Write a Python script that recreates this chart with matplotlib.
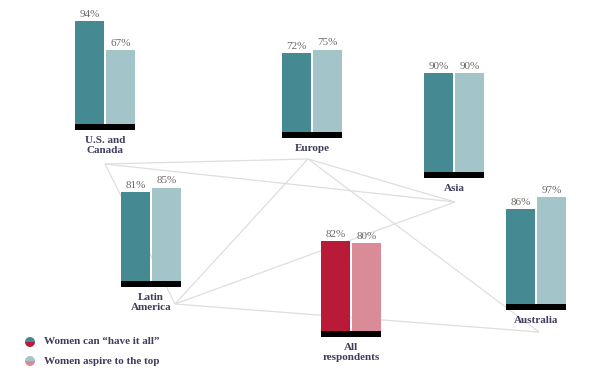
import matplotlib
matplotlib.use('Agg')
import matplotlib.pyplot as plt
from matplotlib.patches import Wedge

# ── Data ──
regions = ["U.S. and\nCanada", "Europe", "Asia", "Latin\nAmerica",
           "All\nrespondents", "Australia"]
have_it_all = [94, 72, 90, 81, 82, 86]
aspire_top = [67, 75, 90, 85, 80, 97]

# network links between regions (grey lines in the background)
links = [("U.S. and\nCanada", "Europe"), ("U.S. and\nCanada", "Asia"),
         ("U.S. and\nCanada", "Latin\nAmerica"), ("Europe", "Asia"),
         ("Europe", "Latin\nAmerica"), ("Europe", "Australia"),
         ("Asia", "Latin\nAmerica"), ("Latin\nAmerica", "Australia")]

# ── Layout (pixels, origin top-left) ──
W, H = 609, 384
group_left = [75, 282, 424, 121, 321, 506]
group_base = [124, 132, 172, 281, 331, 304]
node_xy = {"U.S. and\nCanada": (105, 164), "Europe": (308, 159),
           "Asia": (455, 202), "Latin\nAmerica": (175, 304),
           "Australia": (539, 332)}
PX_PER_PCT = 1.1
BASE_PX = 6
GROUP_W = 60

DARK_TEAL = "#458a93"
LIGHT_TEAL = "#a3c5c9"
RED = "#b81a37"
PINK = "#da8b98"
LINE = "#dedede"
LABEL = "#3d3d5c"
PCT = "#6e6a66"
FONT = "Liberation Serif"

fig = plt.figure(figsize=(W / 100, H / 100), dpi=100)
bg = fig.add_axes([0, 0, 1, 1])
bg.set_xlim(0, W)
bg.set_ylim(H, 0)
bg.axis("off")

for a, b in links:
    (x1, y1), (x2, y2) = node_xy[a], node_xy[b]
    bg.plot([x1, x2], [y1, y2], color=LINE, lw=0.9, zorder=1,
            solid_capstyle="butt")

# ── Bar groups ──
base_pct = BASE_PX / PX_PER_PCT
for name, v1, v2, left, base in zip(regions, have_it_all, aspire_top,
                                    group_left, group_base):
    h_px = (100 + base_pct) * PX_PER_PCT
    ax = fig.add_axes([left / W, 1 - (base + BASE_PX) / H,
                       GROUP_W / W, h_px / H])
    ax.set_xlim(0, 2)
    ax.set_ylim(-base_pct, 100)
    ax.axis("off")
    ax.patch.set_alpha(0)
    c1, c2 = (RED, PINK) if name.startswith("All") else (DARK_TEAL, LIGHT_TEAL)
    ax.bar([0, 1.03], [v1, v2], width=0.97, align="edge",
           color=[c1, c2], linewidth=0)
    ax.axhspan(-base_pct, 0, color="black", lw=0)
    for x, v in zip([0.485, 1.515], [v1, v2]):
        ax.annotate(f"{v}%", (x, v), xytext=(0, 1.5),
                    textcoords="offset points", ha="center", va="bottom",
                    fontsize=8, color=PCT, family=FONT)
    ax.annotate(name, (1, -base_pct), xytext=(0, -4),
                textcoords="offset points", ha="center", va="top",
                fontsize=8, fontweight="bold", color=LABEL, family=FONT,
                linespacing=1.15, annotation_clip=False)

# ── Legend ──
legend_items = [("Women can \u201chave it all\u201d", DARK_TEAL, RED, 342),
                ("Women aspire to the top", LIGHT_TEAL, PINK, 361)]
for text, top_c, bot_c, y in legend_items:
    bg.add_patch(Wedge((30, y), 5, 180, 360, color=top_c, lw=0))
    bg.add_patch(Wedge((30, y), 5, 0, 180, color=bot_c, lw=0))
    bg.text(44, y, text, ha="left", va="center", fontsize=8,
            fontweight="bold", color=LABEL, family=FONT)

plt.savefig("out.png", dpi=100)
plt.close()
